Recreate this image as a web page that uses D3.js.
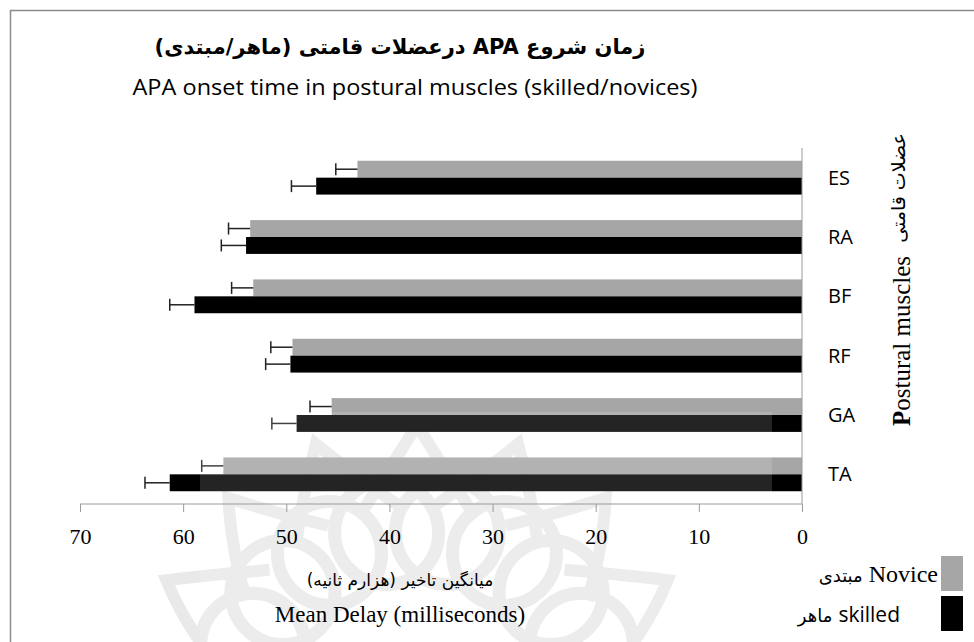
<!DOCTYPE html>
<html>
<head>
<meta charset="utf-8">
<script src="https://cdn.jsdelivr.net/npm/d3@7"></script>
<style>
body { margin: 0; background: #fff; }
svg { display: block; }
.axisClass text { font-family: "Liberation Serif", serif; font-size: 22px; fill: #000; }
.axisClass line, .axisClass path { stroke: #9a9a9a; }
</style>
</head>
<body>
<div id="chart"></div>
<script>

const muscles = ["ES", "RA", "BF", "RF", "GA", "TA"]
const novice = [43.1, 53.5, 53.2, 49.4, 45.6, 56.1]
const noviceErr = [2.1, 2.1, 2.1, 2.1, 2.1, 2.1]
const skilled = [47.1, 53.9, 58.9, 49.6, 49.0, 61.3]
const skilledErr = [2.4, 2.4, 2.4, 2.4, 2.4, 2.4]
const xTicks = [70, 60, 50, 40, 30, 20, 10, 0]

const width = 974
const height = 642

const config = {
    top: 148,
    right: 172,
    bottom: 138,
    left: 80,
}

const svg = d3.select('#chart').append('svg').attr("width", width).attr("height", height)

// frame
svg.append('rect')
    .attr("x", 10.5).attr("y", 10.5)
    .attr("width", 1000).attr("height", 700)
    .attr("fill", "none")
    .attr("stroke", "#8c8c8c")
    .attr("stroke-width", 1.5)

const xScale = d3.scaleLinear().domain([0, 70]).range([width - config.right, config.left])
const yScale = d3.scaleBand().domain(muscles).range([config.top, height - config.bottom])
    .paddingInner(0.43).paddingOuter(0.215)

const half = yScale.bandwidth() / 2

const rows = muscles.map((m, i) => ({
    muscle: m,
    novice: novice[i], noviceErr: noviceErr[i],
    skilled: skilled[i], skilledErr: skilledErr[i]
}))

// watermark ornament (behind bars)
const wm = svg.append('g')
const cx = 417, cy = 705
d3.range(12).forEach(function (k) {
    const a = -Math.PI / 2 + (k - 5.5) * Math.PI / 9
    wm.append('circle')
        .attr("cx", cx + Math.cos(a) * 175)
        .attr("cy", cy + Math.sin(a) * 175)
        .attr("r", 52)
        .attr("fill", "none")
        .attr("stroke", "#e9e9e9")
        .attr("stroke-width", 13)
})
d3.range(7).forEach(function (k) {
    const a = -Math.PI / 2 + (k - 3) * Math.PI / 8.5
    const tip = [cx + Math.cos(a) * 280, cy + Math.sin(a) * 280]
    const l = [cx + Math.cos(a - 0.28) * 200, cy + Math.sin(a - 0.28) * 200]
    const r = [cx + Math.cos(a + 0.28) * 200, cy + Math.sin(a + 0.28) * 200]
    wm.append('path')
        .attr("d", `M${l[0]},${l[1]} Q${(l[0] + tip[0]) / 2 + Math.cos(a) * 10},${(l[1] + tip[1]) / 2} ${tip[0]},${tip[1]} Q${(r[0] + tip[0]) / 2 + Math.cos(a) * 10},${(r[1] + tip[1]) / 2} ${r[0]},${r[1]}`)
        .attr("fill", "none")
        .attr("stroke", "#e9e9e9")
        .attr("stroke-width", 12)
})

// bars
svg.append('g').selectAll('rect.nov')
    .data(rows).enter()
    .append('rect')
    .attr("class", "nov")
    .attr("x", d => xScale(d.novice))
    .attr("y", d => yScale(d.muscle))
    .attr("width", d => xScale(0) - xScale(d.novice))
    .attr("height", half)
    .attr("fill", "#a6a6a6")

svg.append('g').selectAll('rect.sk')
    .data(rows).enter()
    .append('rect')
    .attr("class", "sk")
    .attr("x", d => xScale(d.skilled))
    .attr("y", d => yScale(d.muscle) + half)
    .attr("width", d => xScale(0) - xScale(d.skilled))
    .attr("height", half)
    .attr("fill", "#000")

// error bars, left side only
const errG = svg.append('g').attr("stroke", "#222").attr("stroke-width", 1.5)
rows.forEach(function (d) {
    const series = [
        { v: d.novice, e: d.noviceErr, y: yScale(d.muscle) + half / 2 },
        { v: d.skilled, e: d.skilledErr, y: yScale(d.muscle) + half * 1.5 }
    ]
    series.forEach(function (s) {
        errG.append('line')
            .attr("x1", xScale(s.v)).attr("x2", xScale(s.v + s.e))
            .attr("y1", s.y).attr("y2", s.y)
        errG.append('line')
            .attr("x1", xScale(s.v + s.e)).attr("x2", xScale(s.v + s.e))
            .attr("y1", s.y - 6).attr("y2", s.y + 6)
    })
})

// faded overlay of the watermark box
svg.append('rect')
    .attr("x", 200).attr("y", 412)
    .attr("width", 572).attr("height", 240)
    .attr("fill", "#fff")
    .attr("opacity", 0.14)

// axes
const axisBottom = d3.axisBottom(xScale).tickValues(xTicks).tickFormat(d3.format("d"))
    .tickSize(8).tickPadding(16)

svg.append('g')
    .attr("transform", `translate(0,${height - config.bottom})`)
    .attr('class', "axisClass")
    .call(axisBottom)
    .select(".domain").attr("d", `M${config.left},0H${width - config.right}`)

svg.append('line')
    .attr("x1", xScale(0)).attr("x2", xScale(0))
    .attr("y1", config.top).attr("y2", height - config.bottom)
    .attr("stroke", "#9a9a9a")

// category labels
svg.append('g').selectAll('text')
    .data(muscles).enter()
    .append('text')
    .attr("x", 828)
    .attr("y", d => yScale(d) + yScale.bandwidth() / 2)
    .attr("dy", "0.35em")
    .attr("font-family", "Open Sans, sans-serif")
    .attr("font-size", 20)
    .text(d => d)

// titles
svg.append('text')
    .attr("x", 400).attr("y", 54)
    .attr("text-anchor", "middle")
    .attr("font-family", "DejaVu Sans, sans-serif")
    .attr("font-weight", "bold")
    .attr("font-size", 21)
    .attr("direction", "rtl")
    .text("زمان شروع APA درعضلات قامتی (ماهر/مبتدی)")

svg.append('text')
    .attr("x", 415).attr("y", 95)
    .attr("text-anchor", "middle")
    .attr("font-family", "Open Sans, sans-serif")
    .attr("font-size", 22)
    .attr("textLength", 565)
    .attr("lengthAdjust", "spacingAndGlyphs")
    .text("APA onset time in postural muscles (skilled/novices)")

// x axis titles
svg.append('text')
    .attr("x", 400).attr("y", 586)
    .attr("text-anchor", "middle")
    .attr("font-family", "DejaVu Sans, sans-serif")
    .attr("font-size", 17)
    .attr("direction", "rtl")
    .text("میانگین تاخیر (هزارم ثانیه)")

svg.append('text')
    .attr("x", 400).attr("y", 622)
    .attr("text-anchor", "middle")
    .attr("font-family", "Liberation Serif, serif")
    .attr("font-size", 23)
    .text("Mean Delay (milliseconds)")

// y axis titles, rotated
const yTitle = svg.append('text')
    .attr("transform", "translate(910,341) rotate(-90)")
    .attr("text-anchor", "middle")
    .attr("font-family", "Liberation Serif, serif")
    .attr("font-size", 25)
yTitle.append('tspan').attr("font-weight", "bold").text("P")
yTitle.append('tspan').text("ostural muscles")

svg.append('text')
    .attr("transform", "translate(905,188) rotate(-90)")
    .attr("text-anchor", "middle")
    .attr("font-family", "DejaVu Sans, sans-serif")
    .attr("font-size", 19)
    .attr("direction", "rtl")
    .text("عضلات قامتی")

// legend
const legend = [
    { en: "Novice", fa: "مبتدی", color: "#a6a6a6", y: 556, right: 938, font: "Liberation Serif, serif", size: 24 },
    { en: "skilled", fa: "ماهر", color: "#000", y: 596, right: 900, font: "Open Sans, sans-serif", size: 21 }
]
legend.forEach(function (l) {
    svg.append('rect')
        .attr("x", 941).attr("y", l.y)
        .attr("width", 22).attr("height", 35)
        .attr("fill", l.color)
    const t = svg.append('text')
        .attr("x", l.right)
        .attr("y", l.y + 26)
        .attr("text-anchor", "end")
        .attr("font-family", l.font)
        .attr("font-size", l.size)
        .text(l.en)
    svg.append('text')
        .attr("x", l.right - t.node().getComputedTextLength() - 6)
        .attr("y", l.y + 26)
        .attr("text-anchor", "end")
        .attr("font-family", "DejaVu Sans, sans-serif")
        .attr("font-size", 18)
        .text(l.fa)
})

</script>
</body>
</html>
